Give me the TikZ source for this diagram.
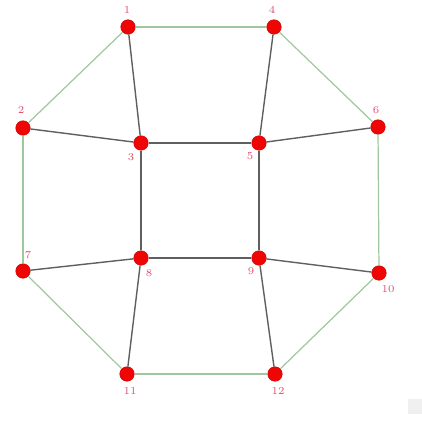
\documentclass[tikz,border=0pt]{standalone}
\usepackage{tikz}
\usetikzlibrary{positioning, calc}
\definecolor{vtxRed}{RGB}{240, 5, 5}
\definecolor{edgeGreen}{RGB}{160, 200, 160}
\definecolor{edgeDark}{RGB}{95, 95, 95}
\definecolor{numPink}{RGB}{225, 80, 110}

\begin{document}
\begin{tikzpicture}[
        x=0.02cm,
        y=-0.02cm,
        vtx/.style={circle, fill=vtxRed, draw=vtxRed!85!black, line width=0.3pt, minimum size=0.29cm, inner sep=0pt},
        vlabel/.style={font=\fontsize{6}{7}\selectfont, text=numPink, inner sep=0pt},
        outer/.style={draw=edgeGreen, line width=0.7pt},
        inner/.style={draw=edgeDark, line width=0.8pt}
    ]
        \useasboundingbox (0,0) rectangle (422,423);

        % vertices: name / x / y / label x / label y
        \foreach \n/\x/\y/\lx/\ly in {1/128/27/127/10, 4/274/27/272/10, 2/23/128/21/110, 3/141/143/131/157,
                5/259/143/250/156, 6/378/127/376/110, 7/23/271/28/255, 8/141/258/149/273,
                9/259/258/251/271, 10/379/273/388/289, 11/127/374/130/391, 12/275/374/278/391} {
            \node[vtx] (v\n) at (\x,\y) {};
            \node[vlabel] (l\n) at (\lx,\ly) {\n};
        }

        % outer ring
        \foreach \a/\b in {1/4, 4/6, 6/10, 10/12, 12/11, 11/7, 7/2, 2/1} {
            \draw[outer] (v\a) -- (v\b);
        }

        % inner square and spokes
        \foreach \a/\b in {3/5, 5/9, 9/8, 8/3, 1/3, 4/5, 2/3, 5/6, 7/8, 9/10, 8/11, 9/12} {
            \draw[inner] (v\a) -- (v\b);
        }

        % faint smudge in the corner
        \fill[black!6] (408,399) rectangle (422,414);
    \end{tikzpicture}
\end{document}
